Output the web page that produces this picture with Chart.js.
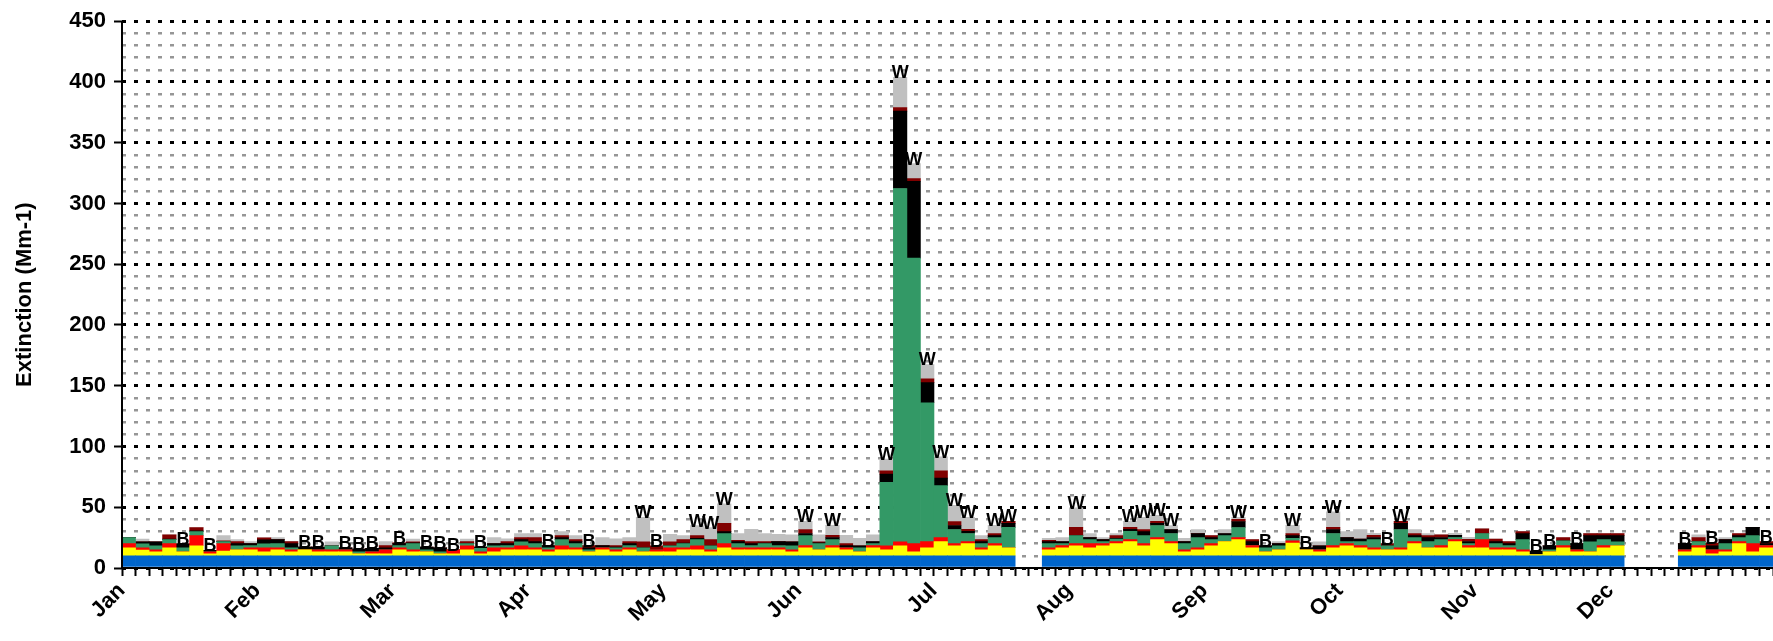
<!DOCTYPE html>
<html>
<head>
<meta charset="utf-8">
<script src="https://cdn.jsdelivr.net/npm/chart.js@4.4.0/dist/chart.umd.min.js"></script>
<style>
    html, body { margin: 0; padding: 0; background: #ffffff; }
    #wrap { width: 1773px; height: 641px; }
</style>
</head>
<body>
<div id="wrap"><canvas id="extinctionChart"></canvas></div>
<script>
/** --------------------DATA (one sample every 3rd day)-------------------- */

const sampleIdx = Array.from({length: 122}, (_, i) => i);

const monthNames = ['Jan', 'Feb', 'Mar', 'Apr', 'May', 'Jun', 'Jul', 'Aug', 'Sep', 'Oct', 'Nov', 'Dec'];
const monthIdx = [0, 10, 20, 30, 40, 50, 60, 70, 80, 90, 100, 110];

const rayleigh = [
    10, 10, 10, 10, 10, 10, 10, 10, 10, 10,
    10, 10, 10, 10, 10, 10, 10, 10, 10, 10,
    10, 10, 10, 10, 10, 10, 10, 10, 10, 10,
    10, 10, 10, 10, 10, 10, 10, 10, 10, 10,
    10, 10, 10, 10, 10, 10, 10, 10, 10, 10,
    10, 10, 10, 10, 10, 10, 10, 10, 10, 10,
    10, 10, 10, 10, 10, 10, null, null, 10, 10,
    10, 10, 10, 10, 10, 10, 10, 10, 10, 10,
    10, 10, 10, 10, 10, 10, 10, 10, 10, 10,
    10, 10, 10, 10, 10, 10, 10, 10, 10, 10,
    10, 10, 10, 10, 10, 10, 10, 10, 10, 10,
    10, null, null, null, null, 10, 10, 10, 10, 10, 10, 10
];

const sulfate = [
    6.7, 4.7, 3.3, 6.7, 3.3, 8.3, 1.7, 3.9, 5, 5,
    3.3, 5, 3.3, 5, 3.3, 3.3, 3.3, 1.7, 1.7, 1.7,
    5, 3.3, 3.3, 1.7, 1.7, 5, 1.7, 3.3, 5, 5,
    5, 3.3, 5, 5, 3.3, 5, 3.3, 5, 3.3, 3.3,
    3.3, 5, 5, 3.3, 6.7, 5, 5, 5, 5, 3.3,
    6.7, 5, 6.7, 5, 3.3, 6.7, 5, 8.3, 3.3, 6.7,
    11.7, 8.3, 10, 5, 8.3, 6.7, null, null, 5, 6.7,
    8.3, 6.7, 8.3, 10, 11.7, 8.3, 13.3, 10, 3.3, 5,
    8.3, 11.7, 13.3, 6.7, 3.3, 5, 10.6, 5, 3.3, 6.7,
    8.3, 6.7, 5, 5, 5, 10, 6.7, 6.7, 11.7, 6.7,
    6.7, 5, 5, 3.3, 1.1, 3.3, 6.7, 3.3, 3.3, 6.7,
    8.3, null, null, null, null, 3.3, 6.7, 1.7, 3.3, 10, 3.3, 6.7
];

const nitrate = [
    3.3, 1.9, 1.7, 3.3, 0, 8.3, 1.7, 6.1, 0, 1.7,
    3.3, 1.7, 1.7, 0, 1.7, 1.7, 1.7, 0, 1.7, 3.3,
    1.7, 1.7, 0, 0, 3.3, 3.3, 1.7, 3.3, 1.7, 3.3,
    1.7, 1.7, 3.3, 1.7, 0, 1.7, 1.7, 1.7, 0, 1.7,
    3.3, 1.7, 3.3, 1.7, 3.3, 1.7, 1.7, 1.7, 1.7, 1.7,
    1.7, 0, 1.7, 1.7, 0, 1.7, 3.3, 3.3, 6.7, 5,
    3.3, 1.7, 1.7, 1.7, 1.7, 0, null, null, 1.7, 1.7,
    1.7, 3.3, 1.7, 1.7, 1.7, 1.7, 1.7, 1.7, 1.7, 1.7,
    1.7, 0, 1.7, 1.7, 0, 0, 1.7, 0, 1.7, 1.7,
    1.7, 1.7, 1.7, 0, 1.7, 1.7, 0, 1.7, 1.7, 1.7,
    6.7, 1.7, 1.7, 1.7, 0, 0, 1.7, 1.7, 0, 1.7,
    0, null, null, null, null, 1.7, 1.7, 3.3, 1.7, 1.7, 6.7, 1.7
];

const organic = [
    5, 3.3, 3.3, 3.3, 3.3, 3.3, 0, 1.7, 3.3, 1.7,
    3.3, 3.3, 1.7, 0, 0, 3.3, 0, 1.7, 0, 0,
    1.7, 5, 1.7, 1.7, 0, 1.7, 2.8, 1.7, 1.7, 3.3,
    3.3, 1.7, 5, 3.3, 1.7, 0, 1.7, 1.7, 3.3, 0,
    1.7, 3.3, 5, 3.3, 8.3, 3.3, 1.7, 3.3, 1.7, 3.3,
    8.3, 5, 5, 0, 3.3, 1.7, 52.2, 290.7, 235, 114.3,
    42.8, 11.7, 6.7, 3.3, 5, 16.7, null, null, 3.3, 1.7,
    6.7, 3.3, 1.7, 2.2, 6.7, 6.7, 10, 6.7, 5, 8.3,
    3.3, 5, 8.3, 0, 3.3, 3.3, 2.2, 0, 0, 10,
    1.7, 3.3, 6.7, 3.3, 15, 3.3, 5, 5, 1.7, 1.7,
    5, 3.3, 1.7, 8.3, 0, 1.7, 3.9, 0, 8.3, 5,
    3.3, null, null, null, null, 0, 3.3, 0, 5, 3.3, 6.7, 0
];

const elemCarbon = [
    0, 1.7, 3.3, 0.6, 3.3, 0.6, 1.1, 0, 1.7, 1.7,
    3.3, 3.3, 3.3, 2.2, 2.2, 0, 1.7, 2.2, 2.8, 1.7,
    1.7, 0.8, 2.2, 3.3, 0, 0, 1.1, 1.7, 1.7, 1.7,
    1.7, 1.7, 1.7, 1.7, 1.7, 1.7, 0.6, 1.7, 0, 0,
    0, 0.6, 1.1, 0, 1.7, 1.7, 1.7, 0.6, 3.3, 3.3,
    1.7, 0.8, 1.7, 1.7, 1.7, 1.7, 6.8, 63.7, 63.3, 16.5,
    6.2, 3.3, 1.7, 1.7, 1.7, 3.3, null, null, 1.7, 1.7,
    0, 1.7, 1.7, 0.6, 1.7, 3.3, 1.7, 3.3, 1.7, 3.3,
    1.7, 1.7, 5, 3.3, 1.7, 1.7, 2.2, 1.7, 3.3, 3.3,
    3.3, 2.2, 1.7, 0, 5, 1.7, 3.3, 1.7, 1.7, 1.7,
    0, 1.7, 1.7, 5, 2.8, 3.3, 0, 5, 5, 3.3,
    5, null, null, null, null, 5, 0, 3.3, 3.3, 1.7, 6.7, 1.7
];

const soil = [
    0, 0, 0, 3.3, 0, 2.8, 0, 0.6, 1.7, 0,
    1.7, 0, 1.7, 0, 0, 0, 0, 0, 0, 1.7,
    0.6, 0.8, 0, 0, 0, 1.7, 0, 0, 1.7, 1.7,
    3.3, 0, 1.7, 1.7, 1.7, 0, 1.1, 1.7, 5, 3.3,
    3.3, 2.8, 2.2, 5, 6.7, 1.1, 1.7, 1.1, 0, 0,
    3.3, 0.8, 1.7, 1.7, 0, 0, 2.7, 3, 2.2, 3.2,
    6, 3.3, 1.7, 1.7, 1.7, 1.7, null, null, 1.1, 0,
    6.7, 0, 0, 2.2, 1.7, 1.7, 1.7, 0, 0, 0,
    1.7, 0, 1.7, 1.7, 0, 0, 1.7, 0, 0, 1.7,
    0, 0, 1.7, 1.7, 1.7, 1.7, 1.7, 2.2, 0, 1.7,
    3.9, 2.2, 1.7, 1.7, 0, 0, 2.8, 0, 1.7, 1.7,
    1.7, null, null, null, null, 0, 3.3, 2.2, 0, 1.7, 0, 1.7
];

const coarseMass = [
    0, 2.2, 0, 0, 0, 0, 0, 4.4, 1.7, 1.7,
    0, 1.7, 0, 0, 0, 3.3, 0, 0, 0, 3.3,
    0, 2.2, 0, 0, 0, 2.2, 0, 5, 2.2, 3.3,
    3.3, 0, 3.3, 3.3, 0, 6.7, 5.6, 3.3, 20, 0,
    6.1, 3.3, 8.3, 10, 16.1, 5.6, 10, 6.7, 6.1, 5.6,
    6.7, 5.6, 8.3, 6.7, 6.1, 5.6, 9.6, 24.8, 12.3, 11.8,
    11.5, 13.3, 10, 3.3, 6.7, 0, null, null, 1.7, 3.3,
    16.1, 3.3, 1.7, 1.7, 5, 10, 5, 3.3, 2.8, 3.3,
    0, 3.3, 1.7, 0, 0, 1.7, 6.7, 0, 3.3, 12.8,
    5, 7.8, 1.7, 0, 0, 3.3, 1.7, 0, 1.7, 1.7,
    0, 0, 0, 0, 0, 0, 0, 0, 0, 0,
    0, null, null, null, null, 0, 2.2, 0, 1.7, 0, 0, 0
];

/** samples flagged W / B above the bar */
const wIdx = [38, 42, 43, 44, 50, 52, 56, 57, 58, 59, 60, 61, 62, 64, 65, 70, 74, 75, 76, 77, 82, 86, 89, 94];
const bIdx = [4, 6, 13, 14, 16, 17, 18, 20, 22, 23, 24, 26, 31, 34, 39, 84, 87, 93, 104, 105, 107, 115, 117, 121];

/** --------------------CHART-------------------- */

const boldFont = {family: '"Liberation Sans", Arial, sans-serif', size: 22, weight: 'bold'};

function makeSet(values, color) {
    return {
        data: values,
        backgroundColor: color,
        borderWidth: 0,
        barPercentage: 1.0,
        categoryPercentage: 1.0
    };
}

function isMajor(c) {
    return c.tick && c.tick.value % 50 === 0;
}

const markerPlugin = {
    id: 'markers',
    afterDatasetsDraw(chart) {
        const ctx = chart.ctx;
        const area = chart.chartArea;
        const topMeta = chart.getDatasetMeta(chart.data.datasets.length - 1);

        ctx.save();
        ctx.font = 'bold 18px "Liberation Sans", Arial, sans-serif';
        ctx.fillStyle = '#000000';
        ctx.textAlign = 'center';
        ctx.textBaseline = 'alphabetic';
        wIdx.forEach(i => {
            let bar = topMeta.data[i];
            ctx.fillText('W', bar.x, bar.y + 1);
        });
        bIdx.forEach(i => {
            let bar = topMeta.data[i];
            ctx.fillText('B', bar.x, bar.y + 1);
        });

        // solid axis lines
        ctx.strokeStyle = '#000000';
        ctx.lineWidth = 2;
        ctx.beginPath();
        ctx.moveTo(area.left, area.top);
        ctx.lineTo(area.left, area.bottom);
        ctx.lineTo(area.right, area.bottom);
        ctx.stroke();
        ctx.restore();
    }
};

const ctx = document.getElementById('extinctionChart').getContext('2d');
const extinctionChart = new Chart(ctx, {
    type: 'bar',
    data: {
        labels: sampleIdx,
        datasets: [
            makeSet(rayleigh, '#0066CC'),
            makeSet(sulfate, '#FFFF00'),
            makeSet(nitrate, '#FF0000'),
            makeSet(organic, '#339966'),
            makeSet(elemCarbon, '#000000'),
            makeSet(soil, '#800000'),
            makeSet(coarseMass, '#C0C0C0')
        ]
    },
    options: {
        responsive: true,
        maintainAspectRatio: false,
        animation: false,
        devicePixelRatio: 1,
        layout: {padding: {top: 19, right: 0, bottom: 0, left: 0}},
        plugins: {
            legend: {display: false},
            tooltip: {enabled: false}
        },
        scales: {
            x: {
                stacked: true,
                afterFit: function (scale) {
                    scale.height = 73;
                    scale.paddingRight = 0;
                },
                grid: {
                    drawOnChartArea: false,
                    offset: true,
                    tickLength: 8,
                    tickWidth: 2,
                    tickColor: '#000000'
                },
                border: {display: false},
                ticks: {
                    autoSkip: false,
                    maxRotation: 45,
                    minRotation: 45,
                    padding: 2,
                    labelOffset: -7,
                    color: '#000000',
                    font: boldFont,
                    callback: function (value, index) {
                        let k = monthIdx.indexOf(index);
                        return k >= 0 ? monthNames[k] : '';
                    }
                }
            },
            y: {
                stacked: true,
                min: 0,
                max: 450,
                afterFit: function (scale) {
                    scale.width = 122;
                },
                grid: {
                    color: c => isMajor(c) ? '#000000' : '#969696',
                    lineWidth: c => isMajor(c) ? 3 : 2.5,
                    tickLength: 8,
                    tickWidth: 2,
                    tickColor: c => isMajor(c) ? '#000000' : 'rgba(0,0,0,0)'
                },
                border: {display: false, dash: [4, 8]},
                ticks: {
                    stepSize: 10,
                    autoSkip: false,
                    padding: 8,
                    color: '#000000',
                    font: boldFont,
                    callback: v => v % 50 === 0 ? v : ''
                },
                title: {
                    display: true,
                    text: 'Extinction (Mm-1)',
                    color: '#000000',
                    font: boldFont,
                    padding: {top: 12, bottom: 0}
                }
            }
        }
    },
    plugins: [markerPlugin]
});
</script>
</body>
</html>
